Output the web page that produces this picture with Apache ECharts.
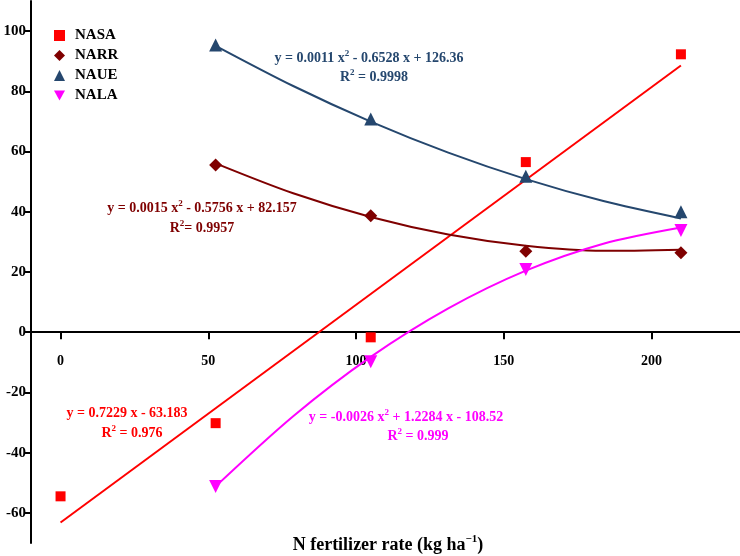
<!DOCTYPE html>
<html>
<head>
<meta charset="utf-8">
<script src="https://cdn.jsdelivr.net/npm/echarts@6/dist/echarts.min.js"></script>
<style>
html, body { margin: 0; padding: 0; background: #fff; }
#chart { width: 740px; height: 556px; }
</style>
</head>
<body>
<div id="chart"></div>
<script>
// measured points
const rateAll = [0, 52.5, 105, 157.5, 210];
const rateN = [52.5, 105, 157.5, 210];
const nasa = [-54.5, -30.2, -1.7, 56.5, 92.3];
const narr = [55.5, 38.7, 26.9, 26.4];
const naue = [95.4, 70.8, 51.8, 40.0];
const nala = [-51.2, -9.8, 20.8, 33.8];

// trend lines: values of the printed fits
const nasaFitX = [0, 210];
const nasaFit = [-63.2, 88.6];
const fitX = [52.5, 78.75, 105, 131.25, 157.5, 183.75, 210];
const narrFit = [56.07, 46.13, 38.26, 32.45, 28.71, 27.04, 27.43];
const naueFit = [95.12, 81.77, 69.94, 59.63, 50.83, 43.55, 37.78];
const nalaFit = [-51.20, -27.91, -8.20, 7.92, 20.46, 29.41, 34.78];

const xTicks = [0, 50, 100, 150, 200];
const yTicks = [-60, -40, -20, 0, 20, 40, 60, 80, 100];

const pair = (xs, ys) => xs.map((x, i) => [x, ys[i]]);

const serif = 'Liberation Serif';
const invTri = 'path://M0,0 L10,0 L5,9 Z';
const cRed = '#ff0000', cBrown = '#7f0000', cBlue = '#25476e', cPink = '#ff00ff';

// y range and grid, x axis is moved up to sit on y = 0
const yMin = -70, yMax = 110;
const gridTop = 1, gridBottom = 13, H = 556;
const plotH = H - gridTop - gridBottom;
const zeroShift = plotH * (0 - yMin) / (yMax - yMin);

let chart = echarts.init(document.getElementById('chart'));

const eq = (x, y, color, parts) => ({
	type: 'text',
	x: x,
	y: y,
	style: {
		text: parts,
		align: 'center',
		verticalAlign: 'middle',
		rich: {
			b: { fontFamily: serif, fontWeight: 'bold', fontSize: 14, lineHeight: 18, fill: color, color: color },
			s: { fontFamily: serif, fontWeight: 'bold', fontSize: 9, lineHeight: 18, verticalAlign: 'top', fill: color, color: color, padding: [0, 0, 6, 0] }
		}
	}
});

let option = {
	animation: false,
	backgroundColor: '#fff',
	grid: { left: 31, right: 0, top: gridTop, bottom: gridBottom, containLabel: false },
	legend: {
		orient: 'vertical',
		left: 49,
		top: 23,
		itemWidth: 11,
		itemHeight: 11,
		itemGap: 5,
		data: [
			{ name: 'NASA', icon: 'rect' },
			{ name: 'NARR', icon: 'diamond' },
			{ name: 'NAUE', icon: 'triangle' },
			{ name: 'NALA', icon: invTri }
		],
		textStyle: { fontFamily: serif, fontWeight: 'bold', fontSize: 15, color: '#000', padding: [0, 0, 0, 5] }
	},
	xAxis: {
		type: 'value',
		min: -10,
		max: 230,
		position: 'bottom',
		offset: -zeroShift,
		splitLine: { show: false },
		axisLine: { onZero: false, lineStyle: { color: '#000', width: 2 } },
		axisTick: { show: true, inside: false, length: 7, lineStyle: { color: '#000', width: 2 }, customValues: xTicks },
		axisLabel: { customValues: xTicks, margin: 22, fontFamily: serif, fontWeight: 'bold', fontSize: 14, color: '#000' }
	},
	yAxis: {
		type: 'value',
		min: yMin,
		max: yMax,
		splitLine: { show: false },
		axisLine: { show: true, onZero: false, lineStyle: { color: '#000', width: 2 } },
		axisTick: { show: true, length: 6, lineStyle: { color: '#000', width: 2 }, customValues: yTicks },
		axisLabel: { customValues: yTicks, margin: 5, fontFamily: serif, fontWeight: 'bold', fontSize: 15, color: '#000' }
	},
	series: [
		{ name: 'NASA fit', type: 'line', data: pair(nasaFitX, nasaFit), symbol: 'none', lineStyle: { color: cRed, width: 2 }, z: 2 },
		{ name: 'NARR fit', type: 'line', data: pair(fitX, narrFit), smooth: 0.3, symbol: 'none', lineStyle: { color: cBrown, width: 2 }, z: 2 },
		{ name: 'NAUE fit', type: 'line', data: pair(fitX, naueFit), smooth: 0.3, symbol: 'none', lineStyle: { color: cBlue, width: 2 }, z: 2 },
		{ name: 'NALA fit', type: 'line', data: pair(fitX, nalaFit), smooth: 0.3, symbol: 'none', lineStyle: { color: cPink, width: 2 }, z: 2 },
		{ name: 'NASA', type: 'scatter', data: pair(rateAll, nasa), symbol: 'rect', symbolSize: 10, itemStyle: { color: cRed, opacity: 1 }, z: 3 },
		{ name: 'NARR', type: 'scatter', data: pair(rateN, narr), symbol: 'diamond', symbolSize: 13, itemStyle: { color: cBrown, opacity: 1 }, z: 3 },
		{ name: 'NAUE', type: 'scatter', data: pair(rateN, naue), symbol: 'triangle', symbolSize: 13, itemStyle: { color: cBlue, opacity: 1 }, z: 3 },
		{ name: 'NALA', type: 'scatter', data: pair(rateN, nala), symbol: invTri, symbolSize: 13, itemStyle: { color: cPink, opacity: 1 }, z: 3 }
	],
	graphic: [
		eq(369, 58, cBlue, '{b|y = 0.0011 x}{s|2}{b| - 0.6528 x + 126.36}'),
		eq(374, 77, cBlue, '{b|R}{s|2}{b| = 0.9998}'),
		eq(202, 208, cBrown, '{b|y = 0.0015 x}{s|2}{b| - 0.5756 x + 82.157}'),
		eq(202, 228, cBrown, '{b|R}{s|2}{b|= 0.9957}'),
		eq(127, 413, cRed, '{b|y = 0.7229 x - 63.183}'),
		eq(132, 433, cRed, '{b|R}{s|2}{b| = 0.976}'),
		eq(406, 417, cPink, '{b|y = -0.0026 x}{s|2}{b| + 1.2284 x - 108.52}'),
		eq(418, 436, cPink, '{b|R}{s|2}{b| = 0.999}'),
		{
			type: 'text',
			x: 388,
			y: 545,
			style: {
				text: '{t|N fertilizer rate (kg ha}{s|−1}{t|)}',
				align: 'center',
				verticalAlign: 'middle',
				rich: {
					t: { fontFamily: serif, fontWeight: 'bold', fontSize: 18, lineHeight: 22, fill: '#000', color: '#000' },
					s: { fontFamily: serif, fontWeight: 'bold', fontSize: 11, lineHeight: 22, verticalAlign: 'top', fill: '#000', color: '#000', padding: [0, 0, 8, 0] }
				}
			}
		}
	]
};

chart.setOption(option);
</script>
</body>
</html>
